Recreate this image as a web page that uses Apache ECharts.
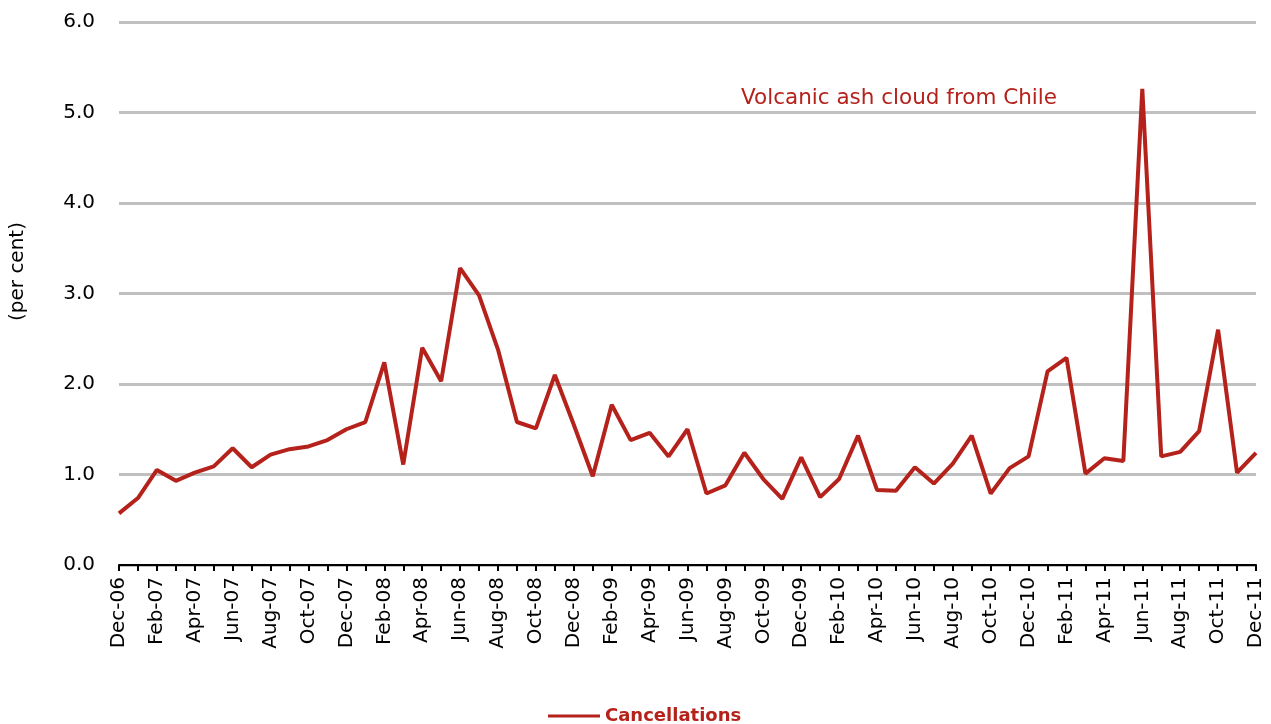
<!DOCTYPE html>
<html>
<head>
<meta charset="utf-8">
<script src="https://cdn.jsdelivr.net/npm/echarts@6/dist/echarts.min.js"></script>
<style>
html, body { margin: 0; padding: 0; background: #fff; }
#chart { width: 1271px; height: 724px; }
</style>
</head>
<body>
<div id="chart"></div>
<script>
// months Dec-06 .. Dec-11
var months = [
  'Dec-06',
  'Jan-07','Feb-07','Mar-07','Apr-07','May-07','Jun-07','Jul-07','Aug-07','Sep-07','Oct-07','Nov-07','Dec-07',
  'Jan-08','Feb-08','Mar-08','Apr-08','May-08','Jun-08','Jul-08','Aug-08','Sep-08','Oct-08','Nov-08','Dec-08',
  'Jan-09','Feb-09','Mar-09','Apr-09','May-09','Jun-09','Jul-09','Aug-09','Sep-09','Oct-09','Nov-09','Dec-09',
  'Jan-10','Feb-10','Mar-10','Apr-10','May-10','Jun-10','Jul-10','Aug-10','Sep-10','Oct-10','Nov-10','Dec-10',
  'Jan-11','Feb-11','Mar-11','Apr-11','May-11','Jun-11','Jul-11','Aug-11','Sep-11','Oct-11','Nov-11','Dec-11'
];

var cancellations = [
  0.57,
  0.74, 1.05, 0.93, 1.02, 1.09, 1.29, 1.08, 1.22, 1.28, 1.31, 1.38, 1.50,
  1.58, 2.24, 1.11, 2.40, 2.03, 3.28, 2.98, 2.38, 1.58, 1.51, 2.10, 1.55,
  0.98, 1.77, 1.38, 1.46, 1.20, 1.50, 0.79, 0.88, 1.24, 0.95, 0.73, 1.19,
  0.75, 0.95, 1.43, 0.83, 0.82, 1.08, 0.90, 1.12, 1.43, 0.79, 1.07, 1.20,
  2.14, 2.29, 1.01, 1.18, 1.15, 5.26, 1.20, 1.25, 1.48, 2.60, 1.02, 1.24
];

var yTicks = [0, 1, 2, 3, 4, 5, 6];

var red = '#b5211b';
var font = 'DejaVu Sans, Verdana, sans-serif';

var myChart = echarts.init(document.getElementById('chart'));
myChart.setOption({
    animation: false,
    backgroundColor: '#fff',
    grid: {
        left: 119,
        right: 15,
        top: 22,
        bottom: 159
    },
    legend: {
        data: ['Cancellations'],
        left: 543,
        top: 702,
        icon: 'rect',
        itemWidth: 52,
        itemHeight: 3,
        itemGap: 6,
        textStyle: {
            color: red,
            fontWeight: 'bold',
            fontSize: 18,
            fontFamily: font
        }
    },
    xAxis: {
        type: 'category',
        data: months,
        boundaryGap: false,
        axisLine: { lineStyle: { color: '#000', width: 2 } },
        axisTick: { show: true, interval: 0, length: 6, lineStyle: { color: '#000', width: 2 } },
        axisLabel: {
            interval: 1,
            rotate: 90,
            margin: 12,
            color: '#000',
            fontSize: 20,
            fontFamily: font
        },
        splitLine: { show: false }
    },
    yAxis: {
        type: 'value',
        min: yTicks[0],
        max: yTicks[yTicks.length - 1],
        interval: 1,
        axisLine: { show: false },
        axisTick: { show: false },
        axisLabel: {
            margin: 24,
            color: '#000',
            fontSize: 20,
            fontFamily: font,
            formatter: function (v) { return v.toFixed(1); }
        },
        splitLine: { lineStyle: { color: '#c0c0c0', width: 3 } }
    },
    graphic: [
        {
            type: 'text',
            left: 8,
            top: 222,
            rotation: Math.PI / 2,
            style: {
                text: '(per cent)',
                fill: '#000',
                fontSize: 20,
                fontFamily: font
            }
        },
        {
            type: 'text',
            left: 741,
            top: 87,
            style: {
                text: 'Volcanic ash cloud from Chile',
                fill: red,
                fontSize: 21.5,
                fontFamily: font
            }
        }
    ],
    series: [
        {
            name: 'Cancellations',
            type: 'line',
            data: cancellations,
            showSymbol: false,
            symbol: 'none',
            itemStyle: { color: red },
            lineStyle: { color: red, width: 4 }
        }
    ]
});
</script>
</body>
</html>
